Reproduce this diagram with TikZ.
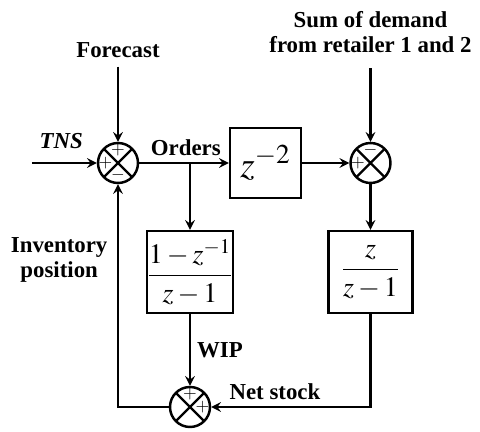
\documentclass[tikz,border=0pt]{standalone}
\usepackage{mathptmx}
\usepackage{fontspec}
\setmainfont{Liberation Serif}
\usetikzlibrary{shapes.geometric, arrows, positioning}

\begin{document}
\begin{tikzpicture}[node distance=2.1cm,
    block/.style={rectangle, draw, line width=1.4pt, minimum width=1.68cm, minimum height=1.64cm, inner sep=0pt, font=\fontsize{16}{19}\selectfont},
    sum/.style={circle, draw, line width=1.4pt, minimum size=0.8cm, inner sep=0pt,
        path picture={\draw[line width=1.4pt] (path picture bounding box.north west) -- (path picture bounding box.south east)
            (path picture bounding box.north east) -- (path picture bounding box.south west);}},
    sign/.style={font=\fontsize{10}{10}\selectfont, inner sep=0pt},
    lbl/.style={font=\fontsize{13}{14.5}\selectfont\bfseries},
    tag/.style={lbl, align=center, inner sep=5pt},
    arrow/.style={->, >=stealth, line width=1.4pt}]
    \useasboundingbox (0,0) rectangle (9.6,-8.64);

    \node (sumA) [sum] at (2.36,-3.26) {};
    \node (delay) [block, minimum width=1.42cm, minimum height=1.4cm, font=\fontsize{21}{24}\selectfont, right of=sumA, xshift=0.85cm] {$z^{-2}$};
    \node (sumB) [sum, right of=delay] {};
    \node (invbox) [block, below of=sumB, yshift=-0.08cm] {$\displaystyle\frac{z}{z-1}$};
    \node (wip) [block, below of=delay, xshift=-1.51cm, yshift=-0.08cm] {$\displaystyle\frac{1-z^{-1}}{z-1}$};
    \node (sumC) [sum, below of=wip, yshift=-0.6cm] {};
    \node (fcast) [tag, above of=sumA, yshift=0.16cm] {Forecast};
    \node (demand) [tag, inner ysep=8.5pt, above of=sumB, yshift=0.52cm] {Sum of demand\\from retailer 1 and 2};
    \coordinate [left of=sumA, xshift=0.38cm] (tnsin);
    \coordinate (branch) at (wip |- sumA);

    % signs inside the junctions
    \node [sign] at ([yshift=-5pt]sumA.north) {$+$};
    \node [sign] at ([xshift=5pt]sumA.west) {$+$};
    \node [sign] at ([yshift=5pt]sumA.south) {$-$};
    \node [sign] at ([yshift=-5pt]sumB.north) {$-$};
    \node [sign] at ([xshift=5pt]sumB.west) {$+$};
    \node [sign] at ([yshift=-5pt]sumC.north) {$+$};
    \node [sign] at ([xshift=-5pt]sumC.east) {$+$};

    \draw [arrow] (tnsin) -- node[lbl, above=4pt, pos=0.45] {\itshape TNS} (sumA);
    \draw [arrow] (fcast) -- (sumA);
    \draw [arrow] (demand) -- (sumB);
    \draw [arrow] (sumA) -- node[lbl, above, pos=0.52] {Orders} (delay);
    \draw [arrow] (branch) -- (wip);
    \draw [arrow] (delay) -- (sumB);
    \draw [arrow] (sumB) -- (invbox);
    \draw [arrow] (wip) -- node[lbl, right] {WIP} (sumC);
    \draw [arrow] (invbox) |- node[lbl, above, pos=0.8] {Net stock} (sumC);
    \draw [arrow] (sumC) -| node[lbl, left=2pt, pos=0.83, align=center] {Inventory\\position} (sumA);
\end{tikzpicture}
\end{document}
